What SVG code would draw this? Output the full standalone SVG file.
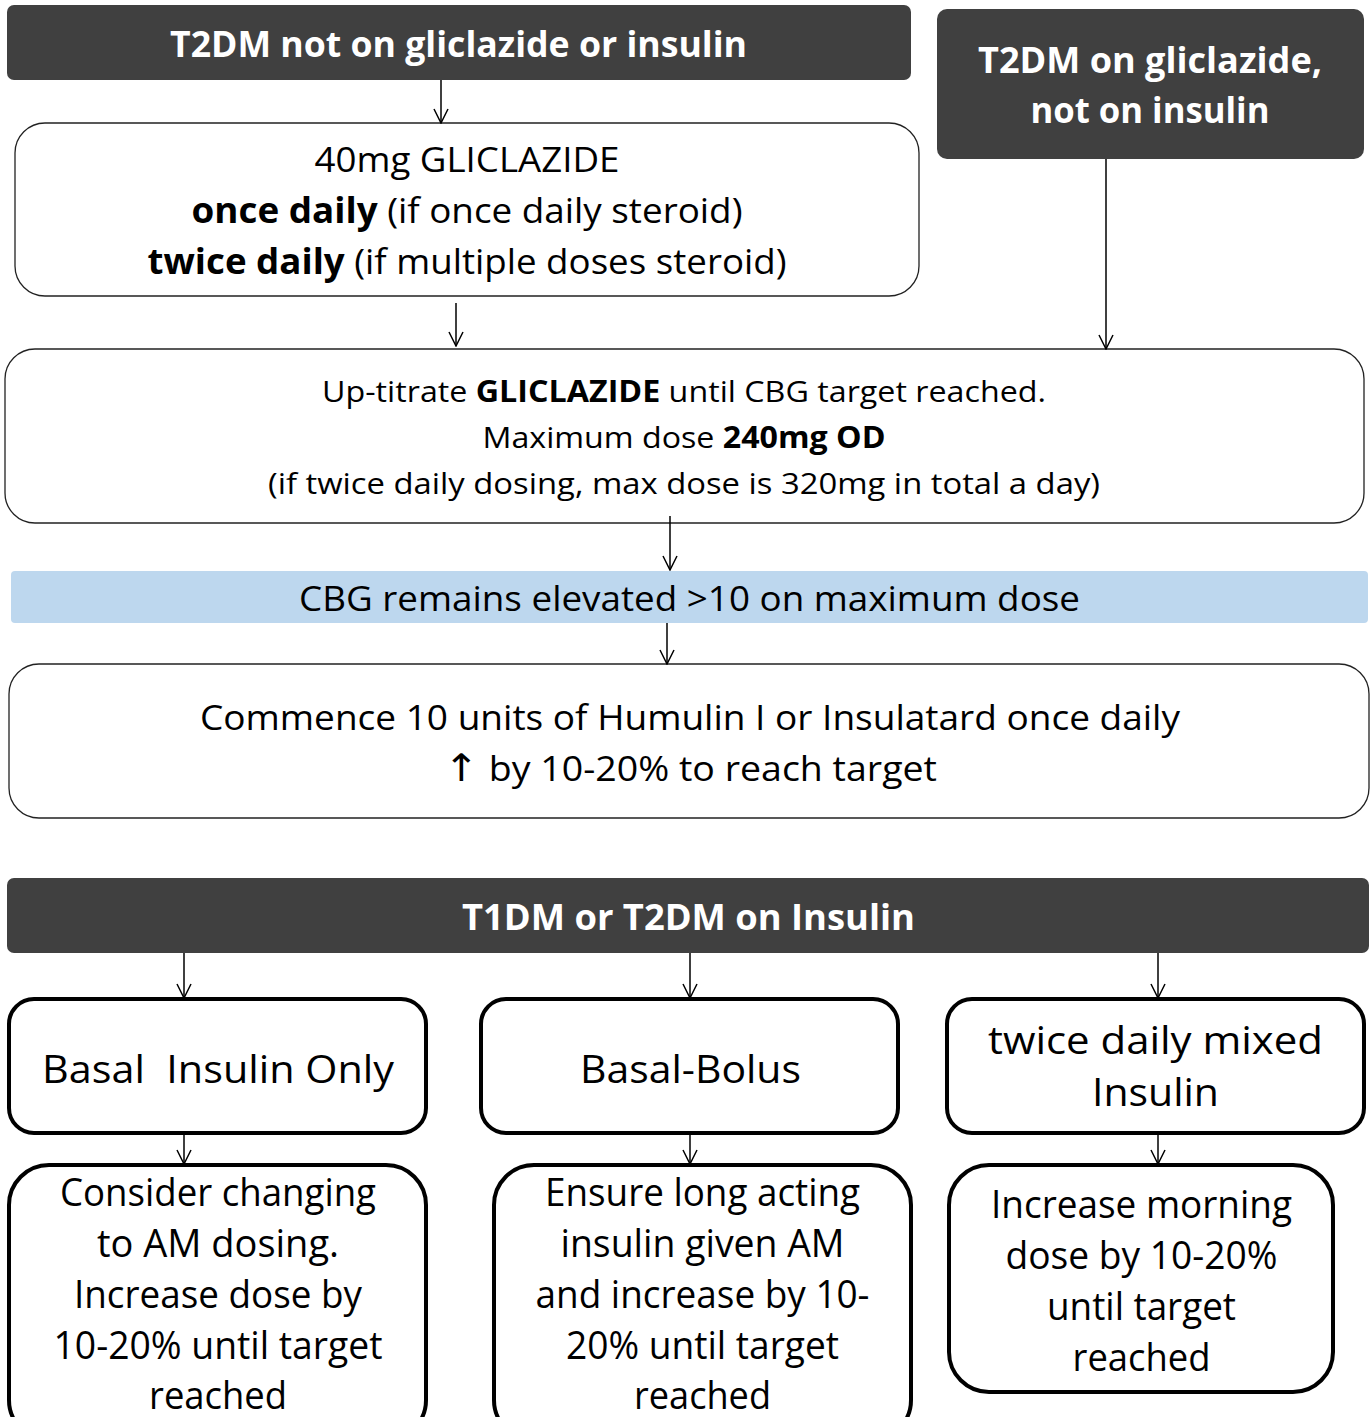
<svg xmlns="http://www.w3.org/2000/svg" width="1371" height="1417" viewBox="0 0 1371 1417">
<defs>
<style>
text{font-family:"Open Sans","Liberation Sans",sans-serif;text-anchor:middle;fill:#000}
.dark{fill:#404040;stroke:none}
.hd{fill:#fff;font-weight:bold;font-size:36px}
.thin{fill:#fff;stroke:#222;stroke-width:1.3}
.thick{fill:#fff;stroke:#000;stroke-width:4}
.blue{fill:#BDD7EE;stroke:none}
.b{font-weight:bold}
.arr{font-family:"DejaVu Sans",sans-serif}
.conn line{stroke:#000;stroke-width:1.5;marker-end:url(#ah)}
</style>
<marker id="ah" viewBox="0 -8 16 16" refX="15" refY="0" markerWidth="16" markerHeight="16" markerUnits="userSpaceOnUse" orient="auto">
<path d="M1,-7 L15,0 L1,7" fill="none" stroke="#000" stroke-width="1.5"/>
</marker>
</defs>
<rect width="1371" height="1417" fill="#fff"/>

<g id="n-t2dm-not">
<rect class="dark" x="7" y="5" width="904" height="75" rx="7"/>
<text class="hd" x="458.5" y="57" textLength="577" lengthAdjust="spacingAndGlyphs">T2DM not on gliclazide or insulin</text>
</g>

<g id="n-t2dm-glic">
<rect class="dark" x="937" y="9" width="427" height="150" rx="10"/>
<text class="hd" x="1150" y="73" textLength="344" lengthAdjust="spacingAndGlyphs">T2DM on gliclazide,</text>
<text class="hd" x="1150" y="123" textLength="239" lengthAdjust="spacingAndGlyphs">not on insulin</text>
</g>

<g id="n-40mg">
<rect class="thin" x="15" y="123" width="904" height="173" rx="30"/>
<text x="467" y="172" font-size="35" textLength="305" lengthAdjust="spacingAndGlyphs">40mg GLICLAZIDE</text>
<text x="467" y="223" font-size="35" textLength="551" lengthAdjust="spacingAndGlyphs"><tspan class="b">once daily</tspan> (if once daily steroid)</text>
<text x="467" y="274" font-size="35" textLength="639" lengthAdjust="spacingAndGlyphs"><tspan class="b">twice daily</tspan> (if multiple doses steroid)</text>
</g>

<g id="n-uptitrate">
<rect class="thin" x="5" y="349" width="1359" height="174" rx="30"/>
<text x="684" y="402" font-size="30" textLength="724" lengthAdjust="spacingAndGlyphs">Up-titrate <tspan class="b">GLICLAZIDE</tspan> until CBG target reached.</text>
<text x="684" y="448" font-size="30" textLength="403" lengthAdjust="spacingAndGlyphs">Maximum dose <tspan class="b">240mg OD</tspan></text>
<text x="684" y="494" font-size="30" textLength="832" lengthAdjust="spacingAndGlyphs">(if twice daily dosing, max dose is 320mg in total a day)</text>
</g>

<g id="n-cbg">
<rect class="blue" x="11" y="571" width="1357" height="52" rx="4"/>
<text x="689.5" y="611" font-size="34" textLength="781" lengthAdjust="spacingAndGlyphs">CBG remains elevated &gt;10 on maximum dose</text>
</g>

<g id="n-commence">
<rect class="thin" x="9" y="664" width="1360" height="154" rx="30"/>
<text x="690" y="730" font-size="34" textLength="980" lengthAdjust="spacingAndGlyphs">Commence 10 units of Humulin I or Insulatard once daily</text>
<text x="690.5" y="781" font-size="34" textLength="493" lengthAdjust="spacingAndGlyphs"><tspan class="arr" font-size="38">↑</tspan> by 10-20% to reach target</text>
</g>

<g id="n-t1dm">
<rect class="dark" x="7" y="878" width="1362" height="75" rx="7"/>
<text class="hd" x="688.5" y="930" textLength="453" lengthAdjust="spacingAndGlyphs">T1DM or T2DM on Insulin</text>
</g>

<g id="n-basal">
<rect class="thick" x="9" y="999" width="417" height="134" rx="25"/>
<text x="218" y="1083" font-size="39" textLength="352" lengthAdjust="spacingAndGlyphs" style="white-space:pre" xml:space="preserve">Basal  Insulin Only</text>
</g>

<g id="n-basalbolus">
<rect class="thick" x="481" y="999" width="417" height="134" rx="25"/>
<text x="690.5" y="1083" font-size="39" textLength="221" lengthAdjust="spacingAndGlyphs">Basal-Bolus</text>
</g>

<g id="n-mixed">
<rect class="thick" x="947" y="999" width="417" height="134" rx="25"/>
<text x="1155.5" y="1054" font-size="39" textLength="335" lengthAdjust="spacingAndGlyphs">twice daily mixed</text>
<text x="1155.5" y="1106" font-size="39" textLength="127" lengthAdjust="spacingAndGlyphs">Insulin</text>
</g>

<g id="n-basal-action">
<rect class="thick" x="9" y="1165" width="417" height="275" rx="40"/>
<text x="218" y="1206" font-size="38" textLength="316" lengthAdjust="spacingAndGlyphs">Consider changing</text>
<text x="218" y="1257" font-size="38" textLength="242" lengthAdjust="spacingAndGlyphs">to AM dosing.</text>
<text x="218" y="1308" font-size="38" textLength="288" lengthAdjust="spacingAndGlyphs">Increase dose by</text>
<text x="218" y="1359" font-size="38" textLength="329" lengthAdjust="spacingAndGlyphs">10-20% until target</text>
<text x="218" y="1409" font-size="38" textLength="138" lengthAdjust="spacingAndGlyphs">reached</text>
</g>

<g id="n-bb-action">
<rect class="thick" x="494" y="1165" width="417" height="275" rx="40"/>
<text x="702.5" y="1206" font-size="38" textLength="315" lengthAdjust="spacingAndGlyphs">Ensure long acting</text>
<text x="702.5" y="1257" font-size="38" textLength="284" lengthAdjust="spacingAndGlyphs">insulin given AM</text>
<text x="702.5" y="1308" font-size="38" textLength="334" lengthAdjust="spacingAndGlyphs">and increase by 10-</text>
<text x="702.5" y="1359" font-size="38" textLength="273" lengthAdjust="spacingAndGlyphs">20% until target</text>
<text x="702.5" y="1409" font-size="38" textLength="137" lengthAdjust="spacingAndGlyphs">reached</text>
</g>

<g id="n-mixed-action">
<rect class="thick" x="949" y="1165" width="384" height="227" rx="40"/>
<text x="1141.5" y="1218" font-size="38" textLength="301" lengthAdjust="spacingAndGlyphs">Increase morning</text>
<text x="1141.5" y="1269" font-size="38" textLength="272" lengthAdjust="spacingAndGlyphs">dose by 10-20%</text>
<text x="1141.5" y="1320" font-size="38" textLength="189" lengthAdjust="spacingAndGlyphs">until target</text>
<text x="1141.5" y="1371" font-size="38" textLength="138" lengthAdjust="spacingAndGlyphs">reached</text>
</g>

<g id="connectors" class="conn">
<line x1="441" y1="80" x2="441" y2="123"/>
<line x1="456" y1="303" x2="456" y2="346"/>
<line x1="1106" y1="159" x2="1106" y2="349"/>
<line x1="670" y1="516" x2="670" y2="570"/>
<line x1="667" y1="623" x2="667" y2="664"/>
<line x1="184" y1="953" x2="184" y2="998"/>
<line x1="690" y1="953" x2="690" y2="998"/>
<line x1="1158" y1="953" x2="1158" y2="998"/>
<line x1="184" y1="1135" x2="184" y2="1164"/>
<line x1="690" y1="1135" x2="690" y2="1164"/>
<line x1="1158" y1="1135" x2="1158" y2="1164"/>
</g>
</svg>
